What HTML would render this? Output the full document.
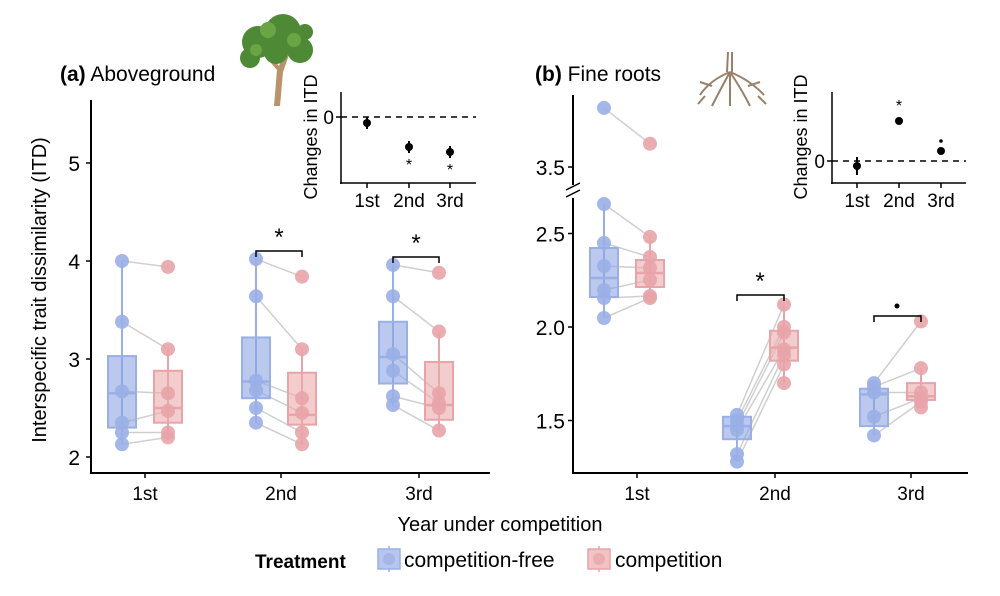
<!DOCTYPE html>
<html><head><meta charset="utf-8"><style>
body{margin:0;background:#fff}
svg{display:block;font-family:"Liberation Sans",sans-serif}
</style></head><body>
<svg id="s" width="1000" height="596" viewBox="0 0 1000 596" xmlns="http://www.w3.org/2000/svg">
<rect width="1000" height="596" fill="#fff"/>
<g id="g"></g>
<text x="60" y="81" font-size="21"><tspan font-weight="bold">(a)</tspan>  Aboveground</text>
<text x="535" y="81" font-size="21"><tspan font-weight="bold">(b)</tspan> Fine roots</text>
<path d="M274 106 L277 70 L264 55 L268 53 L279 66 L285 50 L290 52 L283 72 L280 106 Z" fill="#b8936b"/>
<g fill="#4e8a35"><circle cx="258" cy="42" r="16"/><circle cx="283" cy="32" r="18"/><circle cx="300" cy="50" r="13"/><circle cx="250" cy="58" r="10"/><circle cx="276" cy="52" r="12"/><circle cx="305" cy="32" r="8"/></g>
<g fill="#6aa545"><circle cx="268" cy="30" r="8"/><circle cx="294" cy="40" r="7"/><circle cx="256" cy="50" r="6"/></g>
<g stroke="#9a8068" stroke-width="2" fill="none">
<path d="M732 52 L732 72"/><path d="M728 52 L727 72"/>
<path d="M730 72 Q710 80 700 95"/><path d="M730 72 Q750 80 764 95"/><path d="M730 72 Q720 90 712 106"/><path d="M730 72 Q742 90 750 106"/><path d="M730 74 L730 106"/><path d="M712 86 L700 82"/><path d="M748 86 L760 82"/><path d="M705 96 L698 104"/><path d="M758 96 L766 104"/></g>
<text transform="translate(46,290) rotate(-90)" font-size="20" text-anchor="middle">Interspecific trait dissimilarity (ITD)</text>
<text x="500" y="531" font-size="20" text-anchor="middle">Year under competition</text>
<text x="255" y="568" font-size="19" font-weight="bold">Treatment</text>
<g><line x1="389" y1="546" x2="389" y2="572" stroke="#9aafe6" stroke-width="1.5"/><rect x="378" y="549" width="22" height="20" fill="#b7c6ec" stroke="#9aafe6" stroke-width="1.5"/><circle cx="389" cy="559" r="6" fill="#9aafe6" opacity=".7"/></g>
<text x="404" y="567" font-size="21">competition-free</text>
<g><line x1="599" y1="546" x2="599" y2="572" stroke="#e8a4a8" stroke-width="1.5"/><rect x="588" y="549" width="22" height="20" fill="#f0c4c4" stroke="#e8a4a8" stroke-width="1.5"/><circle cx="599" cy="559" r="6" fill="#e8a4a8" opacity=".7"/></g>
<text x="615" y="567" font-size="21">competition</text>
</svg>
<script>
const g=document.getElementById('g');let h='';
const B='#9aafe6',BF='rgba(140,165,225,0.6)',R='#e8a4a8',RF='rgba(235,170,172,0.6)';
function line(x1,y1,x2,y2,c,w,extra){h+=`<line x1="${x1}" y1="${y1}" x2="${x2}" y2="${y2}" stroke="${c}" stroke-width="${w}" ${extra||''}/>`;}
function txt(x,y,s,fs,anc,extra){h+=`<text x="${x}" y="${y}" font-size="${fs}" text-anchor="${anc||'middle'}" ${extra||''}>${s}</text>`;}
function box(x,ys,q1,med,q3,wl,wh,c,f){
 line(x,wh,x,wl,c,2);
 h+=`<rect x="${x-14}" y="${q3}" width="28" height="${q1-q3}" fill="${f}" stroke="${c}" stroke-width="2"/>`;
 line(x-14,med,x+14,med,c,2.5);
}
function pts(x,ys,c){ys.forEach(y=>h+=`<circle cx="${x}" cy="${y}" r="7" fill="${c}" opacity="0.9"/>`);}
function pairs(xa,ya,xb,yb){for(let i=0;i<Math.min(ya.length,yb.length);i++)line(xa,ya[i],xb,yb[i],'#cfcfcf',1.5);}
const ya=v=>457-(v-2)*98;
line(91,100,91,474,'#000',2);line(90,473,490,473,'#000',2);
[[5,'5'],[4,'4'],[3,'3'],[2,'2']].forEach(([v,s])=>{line(86,ya(v),91,ya(v),'#000',1.5);txt(80,ya(v)+8,s,21,'end');});
[[145,'1st'],[281,'2nd'],[419,'3rd']].forEach(([x,s])=>{line(x,473,x,478,'#000',1.5);txt(x,500,s,19);});
const A=[
 [122,[4.0,3.38,2.67,2.35,2.25,2.13],[2.3,2.65,3.03,2.13,4.0],168,[3.94,3.1,2.65,2.47,2.25,2.2],[2.35,2.5,2.88,2.2,3.1]],
 [256,[4.02,3.64,2.78,2.68,2.5,2.35],[2.6,2.77,3.22,2.35,4.02],302,[3.84,3.1,2.6,2.45,2.25,2.13],[2.33,2.43,2.86,2.13,3.1]],
 [393,[3.96,3.64,3.05,2.88,2.62,2.53],[2.75,3.02,3.38,2.53,3.96],439,[3.88,3.28,2.65,2.55,2.5,2.27],[2.38,2.53,2.97,2.27,3.28]]];
A.forEach(([xb,pb,bb,xr,pr,br])=>{
 const Pb=pb.map(ya),Pr=pr.map(ya);
 pairs(xb,Pb,xr,Pr);
 box(xb,0,ya(bb[0]),ya(bb[1]),ya(bb[2]),ya(bb[3]),ya(bb[4]),B,BF);
 box(xr,0,ya(br[0]),ya(br[1]),ya(br[2]),ya(br[3]),ya(br[4]),R,RF);
 pts(xb,Pb,B);pts(xr,Pr,R);
});
h+=`<path d="M256 257 V251 H302 V257" fill="none" stroke="#000" stroke-width="1.5"/>`;txt(279,245,'*',24);
h+=`<path d="M393 263 V257 H439 V263" fill="none" stroke="#000" stroke-width="1.5"/>`;txt(416,251,'*',24);
const yb=v=>327-(v-2)*187, yu=v=>167-(v-3.5)*179;
line(573,95,573,185,'#000',2);line(573,198,573,474,'#000',2);line(572,473,968,473,'#000',2);
line(566,190,580,183,'#000',1.5);line(566,197,580,190,'#000',1.5);
line(568,167,573,167,'#000',1.5);txt(565,175,'3.5',21,'end');
[[2.5,'2.5'],[2,'2.0'],[1.5,'1.5']].forEach(([v,s])=>{line(568,yb(v),573,yb(v),'#000',1.5);txt(565,yb(v)+8,s,21,'end');});
[[637,'1st'],[775,'2nd'],[911,'3rd']].forEach(([x,s])=>{line(x,473,x,478,'#000',1.5);txt(x,500,s,19);});
const Bd=[
 [604,[yu(3.83),204,243,266,290,298,318],[297,278,248,318,204],650,[yu(3.63),237,257,268,280,296,298],[287,273,260,298,237]],
 [737,[1.53,1.5,1.47,1.45,1.32,1.28].map(yb),[1.4,1.47,1.52,1.28,1.53].map(yb),784,[2.12,2.0,1.97,1.88,1.85,1.8,1.7].map(yb),[1.82,1.89,1.98,1.7,2.12].map(yb)],
 [874,[1.7,1.68,1.65,1.52,1.42].map(yb),[1.47,1.64,1.67,1.42,1.7].map(yb),921,[2.03,1.78,1.65,1.62,1.6,1.57].map(yb),[1.61,1.63,1.7,1.57,1.78].map(yb)]];
Bd.forEach(([xb,Pb,bb,xr,Pr,br])=>{
 pairs(xb,Pb,xr,Pr);
 box(xb,0,...bb,B,BF);box(xr,0,...br,R,RF);
 pts(xb,Pb,B);pts(xr,Pr,R);
});
h+=`<path d="M737 301 V295 H784 V301" fill="none" stroke="#000" stroke-width="1.5"/>`;txt(760,289,'*',24);
h+=`<path d="M874 322 V316 H921 V322" fill="none" stroke="#000" stroke-width="1.5"/>`;h+=`<circle cx="897" cy="306" r="2.5"/>`;
line(341,92,341,184,'#000',1.5);line(340,183,476,183,'#000',1.5);
line(341,117,476,117,'#000',1.5,'stroke-dasharray="6,5"');line(336,117,341,117,'#000',1.5);txt(334,124,'0',19,'end');
[[367,'1st'],[409,'2nd'],[450,'3rd']].forEach(([x,s])=>{line(x,183,x,188,'#000',1.5);txt(x,207,s,19);});
[[367,123],[409,147],[450,152]].forEach(([x,y])=>{line(x,y-6,x,y+6,'#000',2);h+=`<circle cx="${x}" cy="${y}" r="4"/>`;});
txt(409,170,'*',16);txt(450,175,'*',16);
h+=`<text transform="translate(317,137) rotate(-90)" font-size="18" text-anchor="middle">Changes in ITD</text>`;
line(832,92,832,184,'#000',1.5);line(831,183,966,183,'#000',1.5);
line(832,161,966,161,'#000',1.5,'stroke-dasharray="6,5"');line(827,161,832,161,'#000',1.5);txt(825,168,'0',19,'end');
[[857,'1st'],[899,'2nd'],[941,'3rd']].forEach(([x,s])=>{line(x,183,x,188,'#000',1.5);txt(x,207,s,19);});
[[857,166,9],[899,121,2],[941,151,3]].forEach(([x,y,e])=>{line(x,y-e,x,y+e,'#000',2);h+=`<circle cx="${x}" cy="${y}" r="4"/>`;});
txt(899,111,'*',16);h+=`<circle cx="941" cy="141" r="1.8"/>`;
h+=`<text transform="translate(807,137) rotate(-90)" font-size="18" text-anchor="middle">Changes in ITD</text>`;
g.innerHTML=h;
</script>
</body></html>
